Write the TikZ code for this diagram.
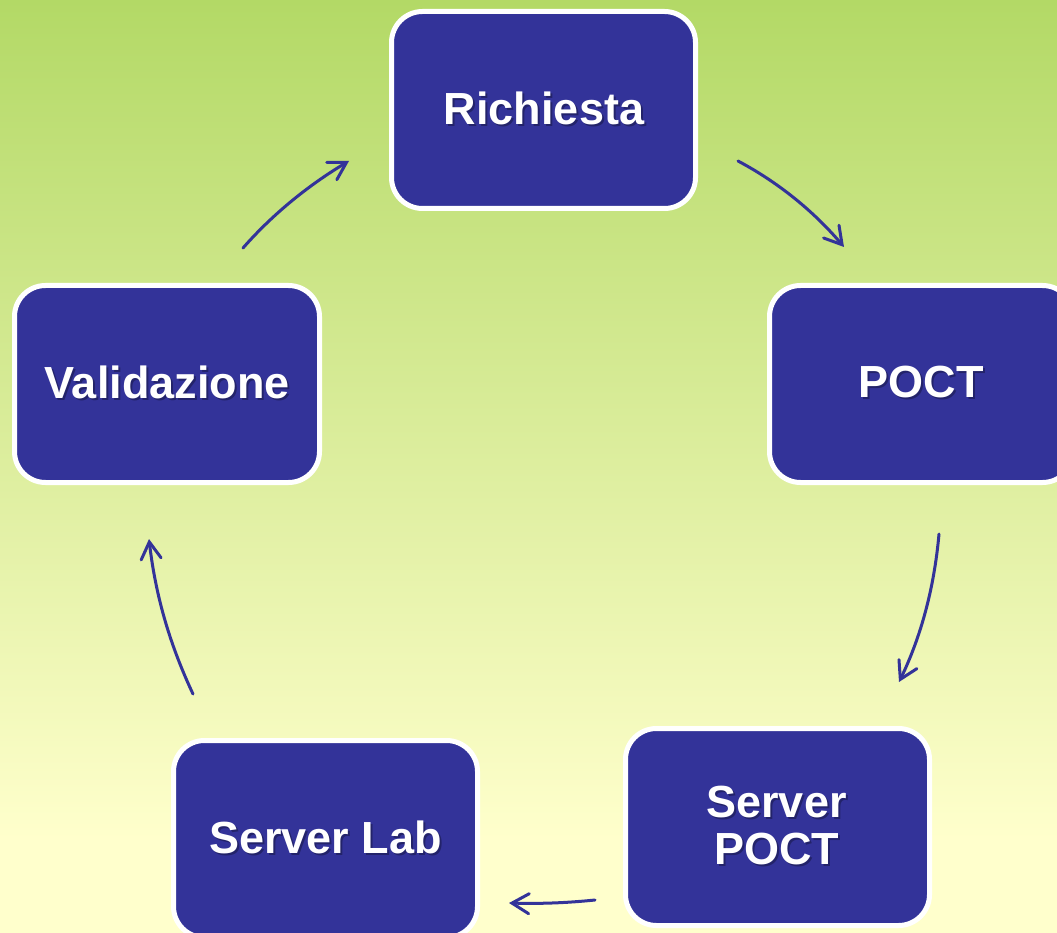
\documentclass[tikz,border=0pt]{standalone}
\usepackage{fontspec}
\setmainfont{Liberation Sans}
\usetikzlibrary{arrows.meta,bending}
\definecolor{boxblue}{HTML}{333399}
\definecolor{bgtop}{HTML}{B3D966}
\definecolor{bgbot}{HTML}{FFFFCC}
\begin{document}
\begin{tikzpicture}[x=1pt,y=-1pt,
  box/.style={draw=white,line width=5pt,fill=boxblue,rounded corners=31pt,inner sep=0pt,anchor=north west,minimum height=197pt},
  lab/.style={text=white,font=\fontsize{45}{47}\selectfont\bfseries,align=center,inner sep=0pt},
  shad/.style={text=black,opacity=.3,font=\fontsize{45}{47}\selectfont\bfseries,align=center,inner sep=0pt},
  conn/.style={draw=boxblue,line width=3pt,line cap=round,-{Straight Barb[length=17pt,width=20pt,line width=3pt,line cap=round,line join=miter,flex=0]}}]
\useasboundingbox (0,0) rectangle (1057,933);
\fill[bgbot] (0,839) rectangle (1057,933);
\shade[top color=bgtop,bottom color=bgbot] (0,0) rectangle (1057,840);
\node[box,minimum width=304pt] (r) at (389,9) {};
\node[box,minimum width=304pt] (p) at (767,283) {};
\node[box,minimum width=304pt] (s) at (623,726) {};
\node[box,minimum width=304pt] (l) at (171,738) {};
\node[box,minimum width=305pt] (v) at (12,283) {};
\coordinate (rc) at (544,108);
\coordinate (pc) at (921,382);
\coordinate (sc) at (776.5,826);
\coordinate (lc) at (325.5,837);
\coordinate (vc) at (167,382);
\node[shad] at ([shift={(2,2)}]rc) {Richiesta};
\node[shad] at ([shift={(2,2)}]pc) {POCT};
\node[shad] at ([shift={(2,2)}]sc) {Server\\POCT};
\node[shad] at ([shift={(2,2)}]lc) {Server Lab};
\node[shad] at ([shift={(2,2)}]vc) {Validazione};
\node[lab] (rt) at (rc) {Richiesta};
\node[lab] (pt) at (pc) {POCT};
\node[lab] (st) at (sc) {Server\\POCT};
\node[lab] (lt) at (lc) {Server Lab};
\node[lab] (vt) at (vc) {Validazione};
\coordinate (a1) at (738,161); \coordinate (a2) at (844,247);
\coordinate (b1) at (939,534); \coordinate (b2) at (899,682);
\coordinate (c1) at (595,900); \coordinate (c2) at (509,903);
\coordinate (d1) at (193,694); \coordinate (d2) at (149,539);
\coordinate (e1) at (243,248); \coordinate (e2) at (349,161);
\draw[conn] (a1) .. controls (785,186) and (820,218) .. (a2);
\draw[conn] (b1) .. controls (934,590) and (920,640) .. (b2);
\draw[conn] (c1) .. controls (566,903) and (538,904) .. (c2);
\draw[conn] (d1) .. controls (170,645) and (155,595) .. (d2);
\draw[conn] (e1) .. controls (272,215) and (308,185) .. (e2);
\end{tikzpicture}
\end{document}
